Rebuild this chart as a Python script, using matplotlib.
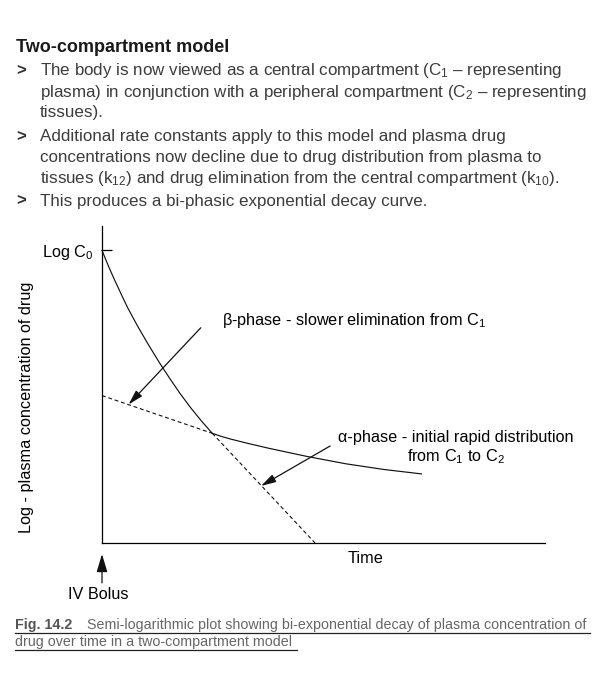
import matplotlib
matplotlib.use("Agg")
import matplotlib.pyplot as plt

plt.rcParams['font.family'] = ['Liberation Sans', 'DejaVu Sans']
plt.rcParams['mathtext.fontset'] = 'custom'
plt.rcParams['mathtext.rm'] = 'Liberation Sans'
plt.rcParams['mathtext.it'] = 'Liberation Sans:italic'
plt.rcParams['mathtext.bf'] = 'Liberation Sans:bold'

# curve (time in arbitrary units, log conc in arbitrary units)
time_curve = [0.00, 0.15, 0.29, 0.45, 0.58, 0.80, 1.05, 1.30, 1.53, 1.76, 2.00, 2.25, 2.49,
              2.70, 2.90, 3.27, 3.76, 4.63, 5.50, 6.36, 7.21]
logc_curve = [9.23, 8.72, 8.28, 7.80, 7.42, 6.85, 6.25, 5.68, 5.19, 4.72, 4.27, 3.84, 3.46,
              3.36, 3.28, 3.15, 2.99, 2.73, 2.50, 2.32, 2.18]

# dashed extrapolations
beta_t = [0.0, 2.49]
beta_c = [4.65, 3.46]
alpha_t = [2.49, 4.81]
alpha_c = [3.46, 0.0]

log_c0 = 9.23

intro = [
    "The body is now viewed as a central compartment (C$_1$ \u2013 representing",
    "plasma) in conjunction with a peripheral compartment (C$_2$ \u2013 representing",
    "tissues).",
    "Additional rate constants apply to this model and plasma drug",
    "concentrations now decline due to drug distribution from plasma to",
    "tissues (k$_{12}$) and drug elimination from the central compartment (k$_{10}$).",
    "This produces a bi-phasic exponential decay curve.",
]
intro_base = [75.5, 97, 117, 141.5, 162, 183.5, 205.5]
bullet_lines = [0, 3, 6]

W, H = 602, 676
fig = plt.figure(figsize=(W / 100, H / 100), dpi=100)


def fx(px):
  return px / W


def fy(py):
  return 1 - py / H


# heading and bullet text
fig.text(fx(16), fy(52), "Two-compartment model", fontsize=13, fontweight='bold',
         color='#1a1a1a', va='baseline')
for i in range(len(intro)):
  if i in bullet_lines:
    fig.text(fx(16), fy(intro_base[i]), ">", fontsize=12, fontweight='bold',
             color='#333333', va='baseline')
  fig.text(fx(40), fy(intro_base[i]), intro[i], fontsize=12.25, color='#3c3c3c', va='baseline')

# chart
ax = fig.add_axes([fx(102), fy(543), fx(443), 317 / H])
ax.set_xlim(0, 10)
ax.set_ylim(0, 10)
ax.spines['top'].set_visible(False)
ax.spines['right'].set_visible(False)
ax.spines['left'].set_linewidth(0.9)
ax.spines['bottom'].set_linewidth(0.9)
ax.set_xticks([])
ax.set_yticks([log_c0])
ax.set_yticklabels(["Log C$_0$"])
ax.tick_params(axis='y', direction='in', length=7, width=0.9, pad=6.5, labelsize=11.7)

ax.plot(time_curve, logc_curve, color='#111111', lw=0.85, clip_on=False)
ax.plot(beta_t, beta_c, color='#111111', lw=0.8, ls=(0, (3.5, 2.5)), clip_on=False)
ax.plot(alpha_t, alpha_c, color='#111111', lw=0.8, ls=(0, (3.5, 2.5)), clip_on=False)

arrow = dict(arrowstyle='-|>,head_length=0.9,head_width=0.25', color='#111111', lw=0.9,
             shrinkA=0, shrinkB=0, mutation_scale=10)
ax.annotate("", xy=(0.60, 4.37), xytext=(2.23, 6.79), arrowprops=arrow)
ax.annotate("", xy=(3.59, 1.80), xytext=(5.15, 3.06), arrowprops=arrow)

ax.text(2.71, 7.01, "\u03b2-phase - slower elimination from C$_1$", fontsize=11.7,
        ha='left', va='center')
ax.text(7.98, 3.33, "\u03b1-phase - initial rapid distribution", fontsize=11.7,
        ha='center', va='center')
ax.text(7.98, 2.72, "from C$_1$ to C$_2$", fontsize=11.7, ha='center', va='center')

ax.text(5.94, -0.50, "Time", fontsize=11.7, ha='center', va='center')
ax.text(-1.70, 4.29, "Log - plasma concentration of drug", fontsize=11.7, rotation=90,
        ha='center', va='center')

ax.annotate("", xy=(0.0, -0.35), xytext=(0.0, -1.26), annotation_clip=False,
            arrowprops=dict(arrowstyle='-|>,head_length=1.0,head_width=0.3', color='#111111',
                            lw=0.9, shrinkA=0, shrinkB=0, mutation_scale=11))
ax.text(-0.09, -1.64, "IV Bolus", fontsize=11.7, ha='center', va='center')

# caption
fig.text(fx(15), fy(629.5), "Fig. 14.2", fontsize=10.3, fontweight='bold', color='#555555',
         va='baseline')
fig.text(fx(87), fy(629.5),
         "Semi-logarithmic plot showing bi-exponential decay of plasma concentration of",
         fontsize=10.3, color='#666666', va='baseline')
fig.text(fx(15), fy(646), "drug over time in a two-compartment model", fontsize=10.3,
         color='#666666', va='baseline')
fig.add_artist(plt.Line2D([fx(15), fx(590)], [fy(633), fy(633)], color='#222222', lw=0.9))
fig.add_artist(plt.Line2D([fx(15), fx(297)], [fy(650), fy(650)], color='#222222', lw=0.9))

fig.savefig("out.png", dpi=100)
